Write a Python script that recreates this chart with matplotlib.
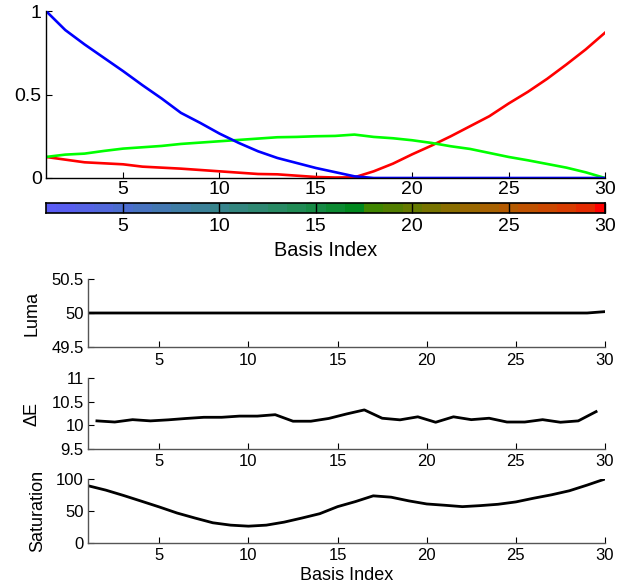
import numpy as np
import matplotlib
matplotlib.use("Agg")
import matplotlib.pyplot as plt

plt.rcParams['font.family'] = ['Liberation Sans', 'DejaVu Sans']

# basis index 1..30
basis = np.arange(1, 31)

# weights of the three primaries per basis index
w_red = [0.126, 0.11, 0.094, 0.088, 0.082, 0.068, 0.062, 0.056, 0.048, 0.04,
         0.032, 0.024, 0.022, 0.014, 0.006, 0.003, 0.004, 0.04, 0.086, 0.142,
         0.194, 0.25, 0.31, 0.37, 0.446, 0.516, 0.594, 0.68, 0.77, 0.87]
w_green = [0.126, 0.14, 0.146, 0.162, 0.176, 0.184, 0.192, 0.204, 0.212, 0.22,
           0.228, 0.236, 0.244, 0.246, 0.25, 0.252, 0.26, 0.246, 0.238, 0.226,
           0.21, 0.19, 0.174, 0.15, 0.126, 0.106, 0.084, 0.062, 0.034, 0.0]
w_blue = [1.0, 0.886, 0.80, 0.72, 0.64, 0.556, 0.476, 0.39, 0.33, 0.266,
          0.21, 0.16, 0.12, 0.09, 0.06, 0.035, 0.01, 0.0, 0.0, 0.0,
          0.0, 0.0, 0.0, 0.0, 0.0, 0.0, 0.0, 0.0, 0.0, 0.0]

# colour of each basis entry (strip under the top plot)
cell_colors = ['#5b5cf5', '#585ef0', '#5563e6', '#5168dc', '#4b6dcf', '#4773c0',
               '#4378b2', '#3f7da5', '#3b8198', '#37848c', '#33867f', '#2e8872',
               '#288a64', '#208b55', '#168a45', '#0c8a32', '#00881e', '#3f8600',
               '#527e00', '#667a00', '#787400', '#8a6e00', '#9a6800', '#a86200',
               '#b45a00', '#c05200', '#cc4800', '#d83c00', '#e42a00', '#ff0000']

luma = [50.0] * 29 + [50.02]

# delta E between neighbouring entries (plotted at half steps)
de_x = np.arange(1.5, 30, 1.0)
delta_e = [10.094, 10.07, 10.12, 10.094, 10.116, 10.145, 10.17, 10.17, 10.195, 10.195,
           10.225, 10.087, 10.087, 10.145, 10.24, 10.326, 10.15, 10.116, 10.18, 10.065,
           10.18, 10.12, 10.15, 10.07, 10.07, 10.12, 10.065, 10.094, 10.29]

saturation = [89.5, 82.6, 74.2, 65.3, 56.3, 46.8, 39.0, 31.6, 27.9, 26.3,
              27.9, 32.6, 39.0, 45.8, 56.8, 64.7, 73.7, 71.6, 65.8, 61.0,
              59.0, 56.8, 58.4, 60.5, 64.2, 70.0, 75.3, 81.6, 90.5, 100.0]

xticks = [5, 10, 15, 20, 25, 30]

W, H = 630, 585
fig = plt.figure(figsize=(W / 100, H / 100), dpi=100)

TOP_FS = 14
LOW_FS = 12
LOW_LAB = 13


def box(left, top, right, bottom):
    return [left / W, 1 - bottom / H, (right - left) / W, (bottom - top) / H]


def style(ax, fs, pad_x, spine_col):
    ax.spines['top'].set_visible(False)
    ax.spines['right'].set_visible(False)
    for s in ('left', 'bottom'):
        ax.spines[s].set_color(spine_col)
        ax.spines[s].set_linewidth(1.0)
    ax.tick_params(direction='in', length=4, width=0.8, labelsize=fs, color='k')
    ax.tick_params(axis='x', pad=pad_x)
    ax.tick_params(axis='y', pad=3)
    ax.set_xlim(1, 30)
    ax.set_xticks(xticks)


def side_label(ax, text, x_px):
    ax.set_ylabel(text, fontsize=LOW_LAB, va='center')
    ax.yaxis.set_label_coords((x_px - 88) / 517, 0.5)


# top: weights
ax0 = fig.add_axes(box(46, 11, 605, 178))
ax0.plot(basis, w_red, color='#ff0000', lw=1.9)
ax0.plot(basis, w_green, color='#00ff00', lw=1.9)
ax0.plot(basis, w_blue, color='#0000ff', lw=1.9)
style(ax0, TOP_FS, 2.5, 'k')
ax0.set_ylim(0, 1)
ax0.set_yticks([0, 0.5, 1])
ax0.set_yticklabels(['0', '0.5', '1'])

# colour strip
axc = fig.add_axes(box(46, 203, 605, 213))
axc.bar(basis, 1, width=1.0, color=cell_colors, linewidth=0)
axc.set_xlim(1, 30)
axc.set_ylim(0, 1)
axc.set_yticks([])
axc.set_xticks(xticks)
for s in axc.spines.values():
    s.set_color('k')
    s.set_linewidth(1.2)
axc.tick_params(axis='x', direction='in', length=7.5, width=1.0, labelsize=TOP_FS, pad=3.5)
axc.set_xlabel('Basis Index', fontsize=14.3, labelpad=4.5)

# luma
ax1 = fig.add_axes(box(88, 279, 605, 347))
ax1.plot(basis, luma, color='k', lw=2.0)
style(ax1, LOW_FS, 4.5, '#555555')
ax1.set_ylim(49.5, 50.5)
ax1.set_yticks([49.5, 50, 50.5])
ax1.set_yticklabels(['49.5', '50', '50.5'])
side_label(ax1, 'Luma', 32)

# delta E
ax2 = fig.add_axes(box(88, 378, 605, 449))
ax2.plot(de_x, delta_e, color='k', lw=2.0)
style(ax2, LOW_FS, 3.5, '#555555')
ax2.set_ylim(9.5, 11)
ax2.set_yticks([9.5, 10, 10.5, 11])
ax2.set_yticklabels(['9.5', '10', '10.5', '11'])
side_label(ax2, 'ΔE', 32)

# saturation
ax3 = fig.add_axes(box(88, 479, 605, 543))
ax3.plot(basis, saturation, color='k', lw=2.0)
style(ax3, LOW_FS, 3.5, '#555555')
ax3.set_ylim(0, 100)
ax3.set_yticks([0, 50, 100])
side_label(ax3, 'Saturation', 37.5)
ax3.set_xlabel('Basis Index', fontsize=LOW_LAB, labelpad=3)

fig.savefig('out.png', dpi=100)
